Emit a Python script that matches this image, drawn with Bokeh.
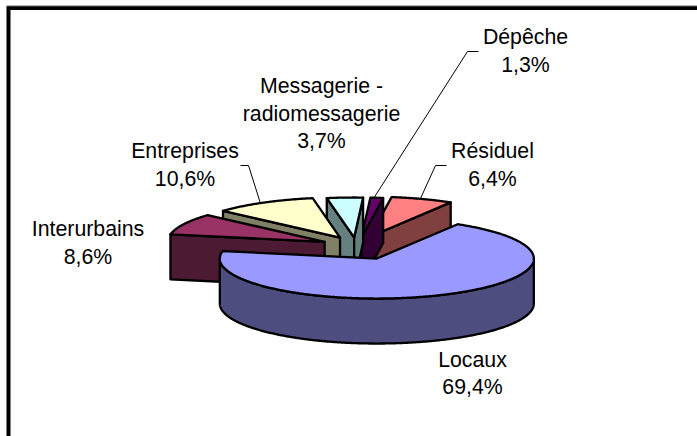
import numpy as np
from bokeh.plotting import figure
from bokeh.core.properties import value
from bokeh.embed import file_html
from bokeh.resources import INLINE

categories = ["Locaux", "Interurbains", "Entreprises", "Messagerie -\nradiomessagerie", "Dépêche", "Résiduel"]
shares = [69.4, 8.6, 10.6, 3.7, 1.3, 6.4]

top_colors = ["#9999FF", "#993366", "#FFFFCC", "#CCFFFF", "#660066", "#FF8080"]
side_colors = ["#4D4D80", "#4D1A33", "#808066", "#668080", "#330033", "#804040"]

W, H = 697, 436
CX, CY = 360, 246.8
RX, RY, DEPTH = 157, 40, 45
EX, EY = 40, 12.3
START = 59.0
draw_order = [5, 4, 3, 2, 1, 0]
nudges = [(0, 0), (0, 0), (-1, 1), (-4, 2.5), (-3, 2.5), (-4, 1)]
label_xy = [(472, 359), (87.5, 228.5), (184.5, 150.5), (321, 85.5), (525, 36.5), (492, 150.5)]
line_step = 27.7
leaders = [None, None, ((260, 203), (248, 165), (240, 165)), None,
           ((373, 198), (467, 51), (478, 51)), ((420, 198), (435, 165), (446, 165))]

p = figure(width=W, height=H, x_range=(0, W), y_range=(H, 0), toolbar_location=None,
           output_backend="svg", min_border=0, outline_line_color=None,
           background_fill_color="white", border_fill_color="white",
           styles={"position": "absolute", "left": "0px", "top": "0px"})
p.axis.visible = False
p.grid.visible = False

# frame
p.line([8, 8, W], [H, 7.5, 7.5], line_color="black", line_width=4, line_join="miter")
p.line([6, W], [5.3, 5.3], line_color="#999999", line_width=1)

# slice angles, clockwise from START
spans = np.array(shares) / sum(shares) * 360.0
ends = np.cumsum(spans)
t_start = START - np.concatenate([[0], ends[:-1]])
t_end = START - ends


def ell(ax, ay, t):
    a = np.radians(t)
    return ax + RX * np.cos(a), ay - RY * np.sin(a)


def poly(xs, ys, fill):
    p.patch(list(xs), list(ys), fill_color=fill, line_color="black", line_width=2.3, line_join="round")


for i in draw_order:
    t1, t2 = t_start[i], t_end[i]   # t1 > t2, running clockwise
    mid = np.radians((t1 + t2) / 2)
    ax = CX + EX * np.cos(mid) + nudges[i][0]
    ay = CY - EY * np.sin(mid) + nudges[i][1]
    ts = np.linspace(t2, t1, max(int(t1 - t2) * 2, 8))
    ex, ey = ell(ax, ay, ts)

    if spans[i] < 180:
        # cut faces that look towards the viewer
        for t, normal in ((t1, t1 + 90), (t2, t2 - 90)):
            if np.sin(np.radians(normal)) < 0:
                ox, oy = ell(ax, ay, t)
                poly([ax, ox, ox, ax], [ay, oy, oy + DEPTH, ay + DEPTH], side_colors[i])

    # outer rim, front part only
    vis = np.sin(np.radians(ts)) <= 0
    if vis.any():
        rx, ry = ex[vis], ey[vis]
        poly(np.r_[rx, rx[::-1]], np.r_[ry, ry[::-1] + DEPTH], side_colors[i])

    # top face
    poly(np.r_[ax, ex], np.r_[ay, ey], top_colors[i])

# leader lines and labels
for seg in leaders:
    if seg:
        p.line([q[0] for q in seg], [q[1] for q in seg], line_color="black", line_width=1)

for name, share, (lx, ly) in zip(categories, shares, label_xy):
    lines = name.split("\n") + [f"{share:.1f}%".replace(".", ",")]
    for k, line in enumerate(lines):
        p.text([lx], [ly + k * line_step], text=[line], text_align="center", text_baseline="alphabetic",
               text_font=value("Liberation Sans"), text_font_size="21.3px", text_color="black")

open("out.html", "w").write(file_html(p, INLINE))
